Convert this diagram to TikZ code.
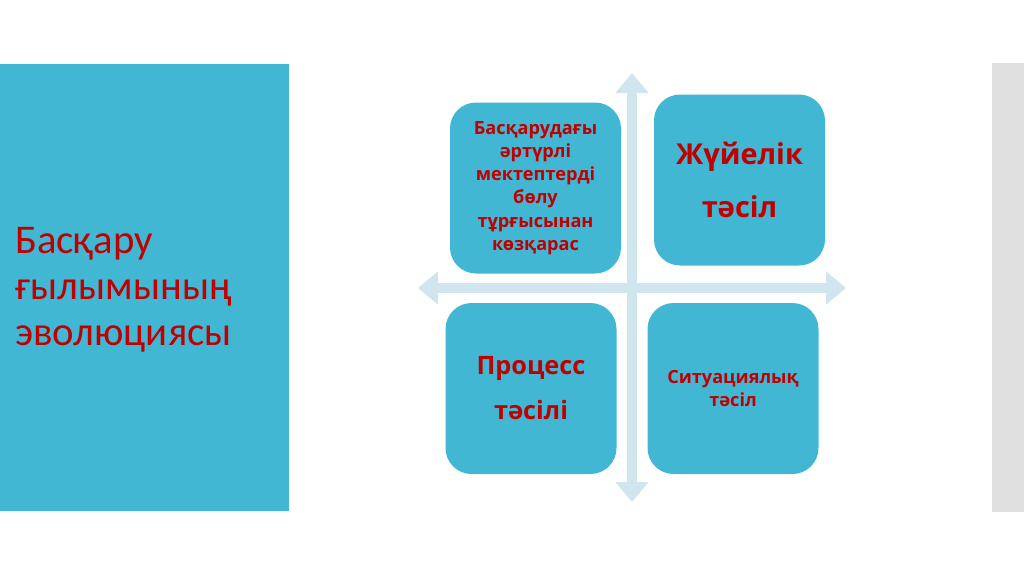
\documentclass[tikz,border=0pt]{standalone}
\usepackage{fontspec}
\setmainfont{Open Sans}
\newfontfamily\titlefont{Carlito}
\usepackage{tikz}
\usetikzlibrary{positioning, arrows.meta}

\definecolor{tealbox}{RGB}{65,183,212}
\definecolor{darkred}{RGB}{192,0,0}
\definecolor{crossblue}{RGB}{208,230,238}
\definecolor{sidegray}{RGB}{224,224,224}

\begin{document}
\begin{tikzpicture}[
  x=0.25mm, y=-0.25mm,
  quad/.style={fill=tealbox, rounded corners=6.5mm, minimum width=171*0.25mm,
               minimum height=171*0.25mm, inner sep=0pt, align=center,
               text=darkred, font=\bfseries},
  small/.style={font=\fontsize{12.9}{16.5}\selectfont\bfseries},
  crossarr/.style={draw=crossblue, line width=2.4mm,
                   {Triangle[length=5mm, width=8mm]}-{Triangle[length=5mm, width=8mm]}},
]
\useasboundingbox (0,0) rectangle (1024,576);
\fill[white] (0,0) rectangle (1024,576);

%% ---- side panels ----
\fill[tealbox]  (0,64)   rectangle (289,511);
\fill[sidegray] (992,63) rectangle (1024,512);
%% base is the baseline of the last line
\node[anchor=base west, align=left, text=darkred, inner sep=0pt,
      font=\titlefont\fontsize{29}{32.7}\selectfont] (title) at (15,345)
  {Басқару\\ғылымының\\эволюциясы};

%% ---- the cross ----
\coordinate (up)    at (632,73);
\coordinate (down)  at (632,502);
\coordinate (left)  at (418,288);
\coordinate (right) at (846,288);
\draw[crossarr] (down) -- (up);
\draw[crossarr] (left) -- (right);

%% ---- the four approaches ----
\node[quad, small] (schools) at (535.5,188)
  {Басқарудағы\\әртүрлі\\мектептерді\\бөлу\\тұрғысынан\\көзқарас};
\node[quad, font=\fontsize{20.5}{37.7}\selectfont\bfseries] (system) at (739.5,180)
  {Жүйелік\\тәсіл};
\node[quad, font=\fontsize{18}{32}\selectfont\bfseries] (process) at (531,388.5)
  {Процесс\\тәсілі};
\node[quad, small] (situation) at (733,388.5)
  {Ситуациялық\\тәсіл};
\end{tikzpicture}
\end{document}
